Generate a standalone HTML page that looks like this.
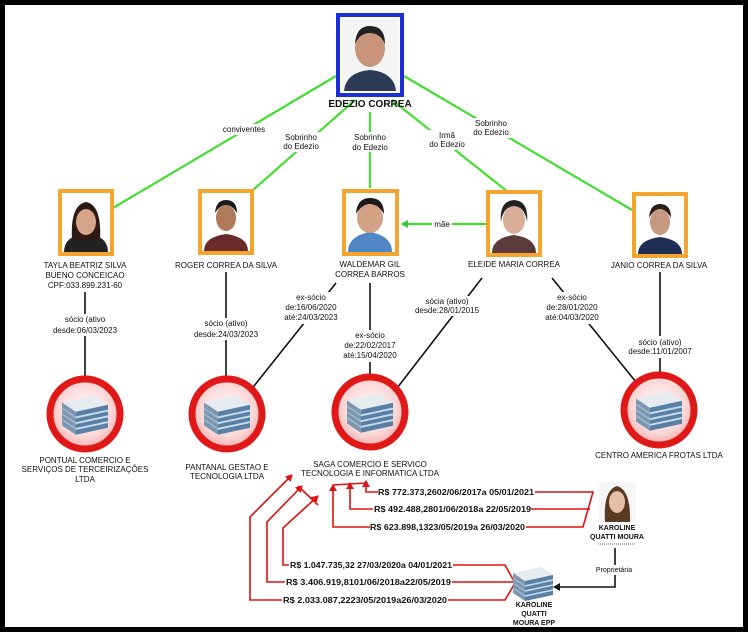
<!DOCTYPE html>
<html><head><meta charset="utf-8"><style>
html,body{margin:0;padding:0;background:#fff;}
svg{display:block;}
text{font-family:"Liberation Sans",sans-serif;font-size:8px;fill:#111;}
.b{font-weight:bold;}
</style></head><body>
<svg width="749" height="633" viewBox="0 0 749 633" xmlns="http://www.w3.org/2000/svg">
<defs>
<radialGradient id="pk" cx="50%" cy="45%" r="55%"><stop offset="0" stop-color="#fff"/><stop offset="0.7" stop-color="#fbd6d6"/><stop offset="1" stop-color="#f3aaaa"/></radialGradient>
<g id="bld">
<polygon points="-20,-10 8,-16 20,-8 -8,-2" fill="#e6ebef"/>
<polygon points="-20,-10 -8,-2 -8,18 -20,10" fill="#7d96b0"/>
<polygon points="-8,-2 20,-8 20,12 -8,18" fill="#5a7fa4"/>
<g stroke="#c6dcef" stroke-width="1.6"><line x1="-8" y1="3" x2="20" y2="-3"/><line x1="-8" y1="8" x2="20" y2="2"/><line x1="-8" y1="13" x2="20" y2="7"/></g>
<g stroke="#9fb7cd" stroke-width="1.4"><line x1="-20" y1="-5" x2="-8" y2="3"/><line x1="-20" y1="0" x2="-8" y2="8"/><line x1="-20" y1="5" x2="-8" y2="13"/></g>
</g>
<g id="circ"><circle r="35" fill="url(#pk)" stroke="#e01818" stroke-width="7"/><use href="#bld" transform="scale(1.15)"/></g>
<marker id="ar" markerWidth="8" markerHeight="8" refX="6" refY="4" orient="auto" markerUnits="userSpaceOnUse"><path d="M0,0 L7,4 L0,8z" fill="#d11"/></marker>
<marker id="ak" markerWidth="8" markerHeight="8" refX="6" refY="4" orient="auto" markerUnits="userSpaceOnUse"><path d="M0,0 L7,4 L0,8z" fill="#111"/></marker>
<marker id="ag" markerWidth="8" markerHeight="8" refX="6" refY="4" orient="auto" markerUnits="userSpaceOnUse"><path d="M0,0 L7,4 L0,8z" fill="#3c3"/></marker>
</defs>
<rect x="2.5" y="2.5" width="743" height="627" fill="#fff" stroke="#000" stroke-width="5"/>

<g stroke="#44dd33" stroke-width="2.2">
<line x1="336" y1="76" x2="113" y2="208"/>
<line x1="355" y1="100" x2="253" y2="190"/>
<line x1="370" y1="112" x2="370" y2="188"/>
<line x1="392" y1="100" x2="508" y2="192"/>
<line x1="404" y1="76" x2="632" y2="210"/>
<line x1="487" y1="224" x2="402" y2="224" marker-end="url(#ag)"/>
</g>
<rect x="222" y="124" width="44" height="11" fill="#fff"/>
<text x="244" y="132" text-anchor="middle">conviventes</text>
<rect x="280" y="132" width="42" height="20" fill="#fff"/>
<text x="301" y="140" text-anchor="middle">Sobrinho</text><text x="301" y="149" text-anchor="middle">do Edezio</text>
<rect x="350" y="132" width="42" height="20" fill="#fff"/>
<text x="370" y="140" text-anchor="middle">Sobrinho</text><text x="370" y="150" text-anchor="middle">do Edezio</text>
<rect x="428" y="130" width="38" height="20" fill="#fff"/>
<text x="447" y="138" text-anchor="middle">Irmã</text><text x="447" y="147" text-anchor="middle">do Edezio</text>
<rect x="470" y="118" width="42" height="20" fill="#fff"/>
<text x="491" y="126" text-anchor="middle">Sobrinho</text><text x="491" y="135" text-anchor="middle">do Edezio</text>
<rect x="432" y="219" width="20" height="10" fill="#fff"/>
<text x="442" y="227" text-anchor="middle">mãe</text>

<rect x="338" y="15" width="64" height="80" fill="#fff" stroke="#1a2fd8" stroke-width="4"/>
<rect x="342" y="19" width="56" height="72" fill="#f4f4f4"/>
<path d="M344,91 Q346,72 370,70 Q394,72 396,91Z" fill="#2a3a55"/>
<ellipse cx="370" cy="48" rx="15" ry="19" fill="#c8957a"/>
<path d="M355,44 Q356,26 370,26 Q385,26 385,44 Q380,33 370,33 Q360,33 355,44Z" fill="#222"/>
<text x="370" y="107" text-anchor="middle" class="b" style="font-size:10px">EDEZIO CORREA</text>

<g>
<rect x="60" y="191" width="52" height="63" fill="#fff" stroke="#f3a530" stroke-width="4"/>
<path d="M64,252 Q64,236 86,233 Q108,236 108,252Z" fill="#222"/>
<path d="M72,240 Q70,205 86,202 Q102,205 100,240Z" fill="#2a1a12"/>
<ellipse cx="86" cy="222" rx="10" ry="13" fill="#d6a488"/>
</g>
<g>
<rect x="200" y="191" width="52" height="62" fill="#fff" stroke="#f3a530" stroke-width="4"/>
<path d="M204,251 Q204,237 226,234 Q248,237 248,251Z" fill="#6a2a2a"/>
<ellipse cx="226" cy="218" rx="10" ry="13" fill="#b07a5a"/>
<path d="M215,213 Q216,200 226,200 Q237,200 237,213 Q232,205 226,205 Q220,205 215,213Z" fill="#1a1a1a"/>
</g>
<g>
<rect x="344" y="191" width="53" height="63" fill="#fff" stroke="#f3a530" stroke-width="4"/>
<path d="M348,252 Q348,236 370,232 Q392,236 392,252Z" fill="#4f86c6"/>
<ellipse cx="370" cy="218" rx="13" ry="15" fill="#d4a284"/>
<path d="M356,214 Q357,198 370,198 Q384,198 384,214 Q378,204 370,204 Q362,204 356,214Z" fill="#1a1a1a"/>
</g>
<g>
<rect x="488" y="192" width="52" height="63" fill="#fff" stroke="#f3a530" stroke-width="4"/>
<path d="M492,253 Q492,238 514,235 Q536,238 536,253Z" fill="#5a3a3a"/>
<ellipse cx="514" cy="220" rx="11" ry="14" fill="#d9ae98"/>
<path d="M501,222 Q499,201 514,200 Q529,201 527,222 Q525,207 514,206 Q503,207 501,222Z" fill="#222"/>
</g>
<g>
<rect x="634" y="194" width="52" height="62" fill="#fff" stroke="#f3a530" stroke-width="4"/>
<path d="M638,254 Q638,240 660,237 Q682,240 682,254Z" fill="#1e2e55"/>
<ellipse cx="660" cy="222" rx="10" ry="13" fill="#c69a80"/>
<path d="M649,218 Q650,204 660,204 Q671,204 671,218 Q666,209 660,209 Q654,209 649,218Z" fill="#2a1d15"/>
</g>

<text x="85" y="268" text-anchor="middle">TAYLA BEATRIZ SILVA</text>
<text x="85" y="278" text-anchor="middle">BUENO CONCEICAO</text>
<text x="85" y="288" text-anchor="middle">CPF:033.899.231-60</text>
<text x="226" y="268" text-anchor="middle">ROGER CORREA DA SILVA</text>
<text x="370" y="267" text-anchor="middle">WALDEMAR GIL</text>
<text x="370" y="277" text-anchor="middle">CORREA BARROS</text>
<text x="514" y="267" text-anchor="middle">ELEIDE MARIA CORREA</text>
<text x="659" y="268" text-anchor="middle">JANIO CORREA DA SILVA</text>

<g stroke="#111" stroke-width="1.6">
<line x1="85" y1="292" x2="85" y2="377"/>
<line x1="226" y1="272" x2="226" y2="378"/>
<line x1="336" y1="283" x2="250" y2="391"/>
<line x1="370" y1="283" x2="370" y2="375"/>
<line x1="482" y1="278" x2="394" y2="392"/>
<line x1="552" y1="278" x2="636" y2="382"/>
<line x1="660" y1="272" x2="660" y2="373"/>
</g>
<g fill="#fff">
<rect x="58" y="314" width="56" height="22"/>
<rect x="196" y="318" width="60" height="22"/>
<rect x="282" y="292" width="58" height="32"/>
<rect x="340" y="330" width="60" height="32"/>
<rect x="415" y="296" width="64" height="20"/>
<rect x="540" y="292" width="62" height="32"/>
<rect x="630" y="336" width="60" height="22"/>
</g>
<text x="85" y="322" text-anchor="middle">sócio (ativo</text><text x="85" y="333" text-anchor="middle">desde:06/03/2023</text>
<text x="226" y="326" text-anchor="middle">sócio (ativo)</text><text x="226" y="337" text-anchor="middle">desde:24/03/2023</text>
<text x="311" y="300" text-anchor="middle">ex-sócio</text><text x="311" y="310" text-anchor="middle">de:16/06/2020</text><text x="311" y="320" text-anchor="middle">até:24/03/2023</text>
<text x="370" y="338" text-anchor="middle">ex-sócio</text><text x="370" y="348" text-anchor="middle">de:22/02/2017</text><text x="370" y="358" text-anchor="middle">até:15/04/2020</text>
<text x="447" y="304" text-anchor="middle">sócia (ativo)</text><text x="447" y="313" text-anchor="middle">desde:28/01/2015</text>
<text x="572" y="300" text-anchor="middle">ex-sócio</text><text x="572" y="310" text-anchor="middle">de:28/01/2020</text><text x="572" y="320" text-anchor="middle">até:04/03/2020</text>
<text x="660" y="345" text-anchor="middle">sócio (ativo)</text><text x="660" y="354" text-anchor="middle">desde:11/01/2007</text>

<use href="#circ" x="85" y="414"/>
<use href="#circ" x="227" y="414"/>
<use href="#circ" x="370" y="412"/>
<use href="#circ" x="659" y="410"/>
<text x="85" y="463" text-anchor="middle">PONTUAL COMERCIO E</text>
<text x="85" y="472" text-anchor="middle">SERVIÇOS DE TERCEIRIZAÇÕES</text>
<text x="85" y="482" text-anchor="middle">LTDA</text>
<text x="227" y="470" text-anchor="middle">PANTANAL GESTAO E</text>
<text x="227" y="479" text-anchor="middle">TECNOLOGIA LTDA</text>
<text x="370" y="467" text-anchor="middle">SAGA COMERCIO E SERVICO</text>
<text x="370" y="476" text-anchor="middle">TECNOLOGIA E INFORMATICA LTDA</text>
<text x="659" y="458" text-anchor="middle">CENTRO AMERICA FROTAS LTDA</text>

<g stroke="#d11" stroke-width="1.6" fill="none">
<polyline points="535,492 593,492 583,527 526,527"/>
<line x1="531" y1="509" x2="590" y2="509"/>
<polyline points="378,492 366,492 366,481" marker-end="url(#ar)"/>
<polyline points="373,509 350,509 350,483" marker-end="url(#ar)"/>
<polyline points="370,527 333,527 333,485" marker-end="url(#ar)"/>
<polyline points="333,485 366,483"/>
<polyline points="453,565 505,565 515,583 505,600 448,600"/>
<line x1="452" y1="582" x2="513" y2="582"/>
<polyline points="289,565 283,565 283,528 318,496" marker-end="url(#ar)"/>
<polyline points="285,582 267,582 267,522 302,486" marker-end="url(#ar)"/>
<polyline points="282,600 250,600 250,517 292,475" marker-end="url(#ar)"/>
<polyline points="298,486 318,505"/>
</g>
<g class="b">
<text x="378" y="495" class="b" textLength="156" lengthAdjust="spacingAndGlyphs">R$ 772.373,2602/06/2017a 05/01/2021</text>
<text x="374" y="512" class="b" textLength="157" lengthAdjust="spacingAndGlyphs">R$ 492.488,2801/06/2018a 22/05/2019</text>
<text x="370" y="530" class="b" textLength="155" lengthAdjust="spacingAndGlyphs">R$ 623.898,1323/05/2019a 26/03/2020</text>
<text x="290" y="568" class="b" textLength="162" lengthAdjust="spacingAndGlyphs">R$ 1.047.735,32 27/03/2020a 04/01/2021</text>
<text x="286" y="585" class="b" textLength="165" lengthAdjust="spacingAndGlyphs">R$ 3.406.919,8101/06/2018a22/05/2019</text>
<text x="283" y="603" class="b" textLength="164" lengthAdjust="spacingAndGlyphs">R$ 2.033.087,2223/05/2019a26/03/2020</text>
</g>

<rect x="599" y="482" width="37" height="40" fill="#f6f6f6"/>
<path d="M605,522 Q603,490 617,486 Q631,490 630,522Z" fill="#5a3a22"/>
<ellipse cx="617" cy="502" rx="8" ry="11" fill="#e4bfa8"/>
<text x="617" y="530" text-anchor="middle" class="b" style="font-size:7px">KAROLINE</text>
<text x="617" y="539" text-anchor="middle" class="b" style="font-size:7px">QUATTI MOURA</text>
<line x1="598" y1="544" x2="636" y2="544" stroke="#999" stroke-width="1.5" stroke-dasharray="1,1"/>
<polyline points="615,548 615,587 554,587" stroke="#111" stroke-width="1.6" fill="none" marker-end="url(#ak)"/>
<rect x="596" y="565" width="36" height="10" fill="#fff"/>
<text x="614" y="572" text-anchor="middle" style="font-size:7px">Proprietária</text>
<use href="#bld" x="533" y="583"/>
<text x="534" y="607" text-anchor="middle" class="b" style="font-size:7px">KAROLINE</text>
<text x="534" y="616" text-anchor="middle" class="b" style="font-size:7px">QUATTI</text>
<text x="534" y="625" text-anchor="middle" class="b" style="font-size:7px">MOURA EPP</text>
</svg>
</body></html>
